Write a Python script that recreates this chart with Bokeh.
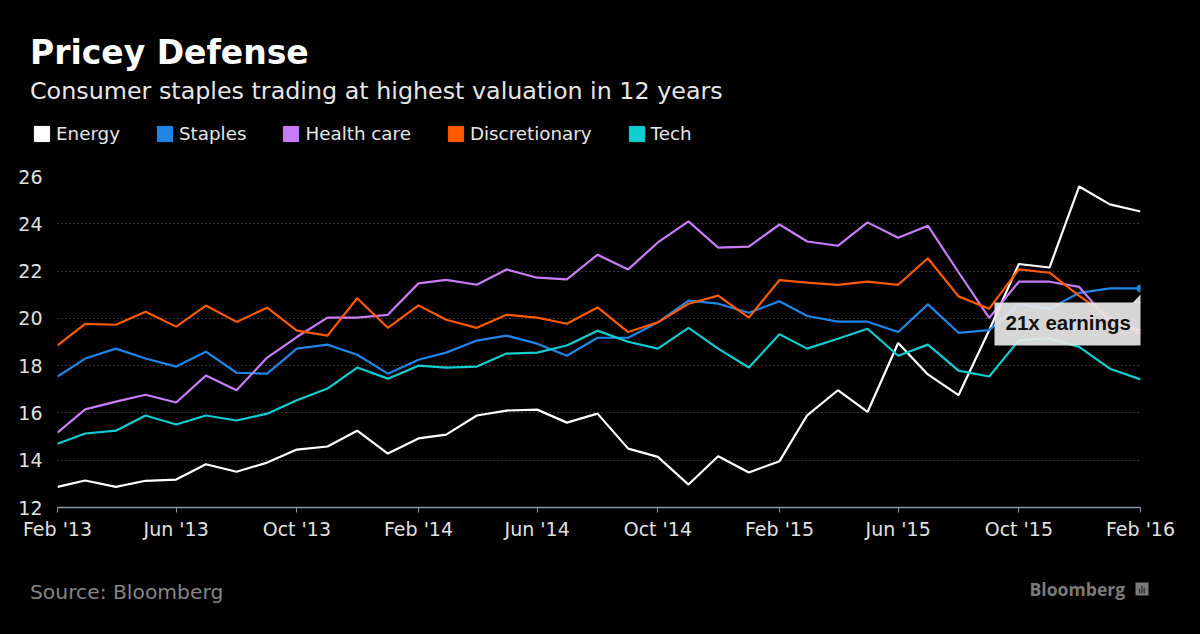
import math
import pandas as pd
from bokeh.plotting import figure
from bokeh.layouts import column
from bokeh.models import (Label, Legend, LegendItem, FixedTicker, DatetimeTickFormatter,
                          BoxAnnotation, PolyAnnotation, ColumnDataSource)
from bokeh.embed import file_html
from bokeh.resources import INLINE

# ---- data ----
dates = pd.date_range("2013-02-01", periods=37, freq="MS")
energy = [12.87, 13.14, 12.87, 13.13, 13.18, 13.83, 13.51, 13.90, 14.45, 14.58, 15.25,
          14.28, 14.92, 15.08, 15.89, 16.10, 16.14, 15.59, 15.97, 14.49, 14.14, 12.97, 14.17,
          13.48, 13.96, 15.90, 16.96, 16.04, 18.96, 17.63, 16.75, 19.50, 22.30, 22.15, 25.58,
          24.82, 24.52]
staples = [17.54, 18.30, 18.72, 18.30, 17.96, 18.59, 17.70, 17.66, 18.72, 18.89, 18.46,
           17.66, 18.25, 18.55, 19.06, 19.27, 18.93, 18.42, 19.18, 19.18, 19.83, 20.75, 20.62,
           20.24, 20.72, 20.10, 19.86, 19.86, 19.42, 20.59, 19.39, 19.50, 20.60, 20.40, 21.08,
           21.27, 21.27]
health = [15.17, 16.15, 16.48, 16.77, 16.44, 17.58, 16.96, 18.34, 19.21, 20.03, 20.03,
          20.15, 21.48, 21.63, 21.42, 22.07, 21.72, 21.65, 22.69, 22.07, 23.21, 24.10, 22.99,
          23.03, 23.97, 23.25, 23.07, 24.06, 23.41, 23.92, 21.95, 20.02, 21.55, 21.55, 21.33,
          19.85, 19.50]
discretionary = [18.86, 19.77, 19.73, 20.28, 19.65, 20.54, 19.85, 20.45, 19.48, 19.27, 20.85,
                 19.60, 20.55, 19.94, 19.60, 20.15, 20.03, 19.77, 20.46, 19.42, 19.83, 20.62, 20.96,
                 20.03, 21.62, 21.51, 21.42, 21.55, 21.42, 22.54, 20.93, 20.41, 22.07, 21.93, 20.95,
                 20.05, 19.35]
tech = [14.70, 15.13, 15.25, 15.89, 15.51, 15.89, 15.68, 15.97, 16.54, 17.03, 17.92,
        17.45, 18.00, 17.92, 17.96, 18.51, 18.55, 18.85, 19.48, 19.01, 18.72, 19.60, 18.72,
        17.92, 19.33, 18.72, 19.14, 19.56, 18.42, 18.89, 17.79, 17.54, 19.07, 19.15, 18.79,
        17.87, 17.42]

series_names = ["Energy", "Staples", "Health care", "Discretionary", "Tech"]
series_values = [energy, staples, health, discretionary, tech]
series_colors = ["#ffffff", "#1f86e8", "#c97cf7", "#ff5a00", "#10cdd0"]

y_ticks = [12, 14, 16, 18, 20, 22, 24, 26]
x_tick_dates = dates[::4]

title_text = "Pricey Defense"
subtitle_text = "Consumer staples trading at highest valuation in 12 years"
source_text = "Source: Bloomberg"
logo_text = "Bloomberg"
note_text = "21x earnings"

# ---- layout constants (page pixels) ----
W, H = 1200, 634
HEAD_H = 150          # header strip: title, subtitle, legend
FOOT_Y = 560          # footer strip starts here
FL, FR, FT, FB = 57, 1140, 176, 507
FONT = "DejaVu Sans"
BG = "#000000"
BASE_FIX = 0.39       # renderer places the alphabetic baseline this many em lower


def prep(f):
    try:
        f.frame_align = False
    except Exception:
        pass
    try:
        f.title = None
    except Exception:
        pass
    f.background_fill_color = BG
    f.border_fill_color = BG
    f.outline_line_color = None


def blank(h):
    f = figure(width=W, height=h, x_range=(0, W), y_range=(0, h),
               x_axis_location=None, y_axis_location=None,
               output_backend="svg", toolbar_location=None, min_border=0)
    prep(f)
    f.grid.grid_line_color = None
    return f


def base(py, fs):
    return py - BASE_FIX * fs


# ---------- header ----------
hd = blank(HEAD_H)
def hy(py):
    return HEAD_H - py

hd.add_layout(Label(x=29.5, y=hy(base(65, 33)), text=title_text, text_font=FONT,
                    text_font_style="bold", text_font_size="33px", text_color="#ffffff",
                    text_baseline="alphabetic"))
hd.add_layout(Label(x=29.5, y=hy(base(100, 23.8)), text=subtitle_text, text_font=FONT,
                    text_font_size="23.8px", text_color="#e6e6e6", text_baseline="alphabetic"))
items = []
nan = [math.nan]
for name, col in zip(series_names, series_colors):
    r = hd.quad(left=nan, right=nan, top=nan, bottom=nan, fill_color=col, line_color=col)
    items.append(LegendItem(label=name, renderers=[r]))
legend = Legend(items=items, orientation="horizontal", location=(32, hy(144)),
                glyph_width=19, glyph_height=19, label_standoff=5, spacing=35,
                padding=0, margin=0, border_line_color=None, background_fill_alpha=0,
                label_text_font=FONT, label_text_font_size="18.3px",
                label_text_color="#e6e6e6", label_height=19)
hd.add_layout(legend, "center")

# ---------- main chart ----------
MAIN_H = FOOT_Y - HEAD_H
p = figure(width=W, height=MAIN_H, x_axis_type="datetime",
           x_range=(dates[0], dates[-1]), y_range=(12, 26),
           output_backend="svg", toolbar_location=None,
           min_border_left=FL, min_border_right=W - FR,
           min_border_top=FT - HEAD_H, min_border_bottom=FOOT_Y - FB)
prep(p)

p.xaxis.ticker = FixedTicker(ticks=[d.value // 10**6 for d in x_tick_dates])
fmt = "%b '%y"
p.xaxis.formatter = DatetimeTickFormatter(days=fmt, months=fmt, years=fmt)
p.xaxis.axis_line_color = "#8d99a6"
p.xaxis.axis_line_width = 1.5
p.xaxis.major_tick_line_color = "#8d99a6"
p.xaxis.major_tick_out = 5
p.xaxis.major_tick_in = 0
p.xaxis.minor_tick_line_color = None
p.xaxis.major_label_standoff = 5
p.xaxis.major_label_text_color = "#e0e0e0"
p.xaxis.major_label_text_font = FONT
p.xaxis.major_label_text_font_size = "19px"

p.yaxis.ticker = FixedTicker(ticks=y_ticks)
p.yaxis.axis_line_color = None
p.yaxis.major_tick_line_color = None
p.yaxis.minor_tick_line_color = None
p.yaxis.major_label_standoff = 9
p.yaxis.major_label_text_color = "#e0e0e0"
p.yaxis.major_label_text_font = FONT
p.yaxis.major_label_text_font_size = "19px"

p.xgrid.grid_line_color = None
p.ygrid.grid_line_color = "#6a6a6a"
p.ygrid.grid_line_dash = "1 3"
p.ygrid.grid_line_width = 1

for name, vals, col in zip(series_names, series_values, series_colors):
    src = ColumnDataSource(dict(x=dates, y=vals))
    p.line("x", "y", source=src, line_color=col, line_width=2.2)

p.scatter(x=[dates[-1]], y=[staples[-1]], size=7, fill_color=series_colors[1],
          line_color=series_colors[1])

# annotation box (frame-relative screen units, y up from frame bottom)
def sx(px):
    return px - FL

def sy(py):
    return FB - py

scr = dict(left_units="screen", right_units="screen", top_units="screen", bottom_units="screen")
p.add_layout(BoxAnnotation(left=sx(994), right=sx(1141), top=sy(302), bottom=sy(345),
                           fill_color="#e8e8e8", fill_alpha=0.92, line_color=None,
                           level="overlay", **scr))
p.add_layout(PolyAnnotation(xs=[sx(1132), sx(1141), sx(1141)], ys=[sy(302.5), sy(293), sy(302.5)],
                            xs_units="screen", ys_units="screen", fill_color="#e8e8e8",
                            fill_alpha=0.92, line_color=None, level="overlay"))
p.add_layout(Label(x=sx(1005), y=sy(base(330, 20.5)), x_units="screen", y_units="screen",
                   text=note_text, text_font="Liberation Sans", text_font_style="bold",
                   text_font_size="20.5px", text_color="#111111", text_baseline="alphabetic",
                   level="overlay"))

# ---------- footer ----------
FOOT_H = H - FOOT_Y
ft = blank(FOOT_H)
def fy(py):
    return H - py

ft.add_layout(Label(x=29.5, y=fy(base(599, 20.3)), text=source_text, text_font=FONT,
                    text_font_size="20.3px", text_color="#858585", text_baseline="alphabetic"))
ft.add_layout(Label(x=1029, y=fy(base(595, 17.6)), text=logo_text, text_font="Open Sans",
                    text_font_style="bold", text_font_size="17.6px", text_color="#7a7a7a",
                    text_baseline="alphabetic"))
ft.add_layout(BoxAnnotation(left=1135, right=1148, top=fy(582), bottom=fy(595),
                            fill_color="#7a7a7a", fill_alpha=1, line_color=None))
for bx, btop in ((1138.5, 588), (1140.8, 585), (1143.1, 587)):
    ft.add_layout(BoxAnnotation(left=bx, right=bx + 1.3, top=fy(btop), bottom=fy(593),
                                fill_color="#000000", fill_alpha=0.6, line_color=None))

layout = column(hd, p, ft, spacing=0)
html = file_html(layout, INLINE)
html = html.replace("<body>", "<body style=\"margin:0;background:#000000;\">")
open("out.html", "w").write(html)
